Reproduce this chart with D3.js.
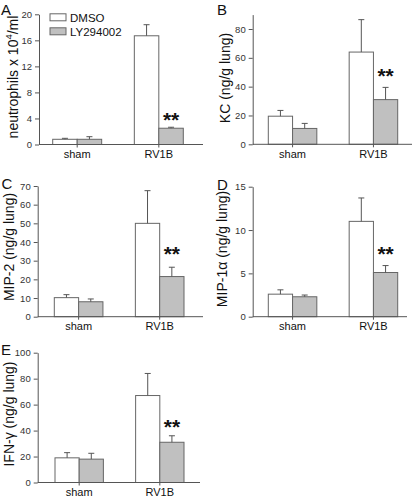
<!DOCTYPE html>
<html><head><meta charset="utf-8">
<script src="https://cdn.jsdelivr.net/npm/d3@7"></script>
<style>
body{margin:0;background:#fff;}
svg{display:block;font-family:"Liberation Sans",Arial,sans-serif;}
</style></head>
<body>
<svg id="c" width="415" height="497"></svg>
<script>
const groups = ["sham", "RV1B"];
const series = ["DMSO", "LY294002"];

const neutrophilsMean = [[0.8, 0.8], [16.7, 2.5]];
const neutrophilsErr  = [[0.95, 1.2], [18.4, 2.65]];
const kcMean = [[19.5, 11], [64, 31]];
const kcErr  = [[23.5, 14.5], [86.5, 39.5]];
const mip2Mean = [[10.2, 8], [50, 21.5]];
const mip2Err  = [[11.8, 9.5], [67.5, 26.5]];
const mip1aMean = [[2.6, 2.3], [11, 5.1]];
const mip1aErr  = [[3.1, 2.5], [13.7, 5.9]];
const ifngMean = [[19, 18], [67, 31]];
const ifngErr  = [[23, 22.5], [84, 36]];

const ticksA = [0, 4, 8, 12, 16, 20];
const ticksB = [0, 20, 40, 60, 80];
const ticksC = [0, 10, 20, 30, 40, 50, 60, 70];
const ticksD = [0, 5, 10, 15];
const ticksE = [0, 20, 40, 60, 80, 100];

const panels = [
  {letter:"A", lx:1, ly:15, mean:neutrophilsMean, err:neutrophilsErr, ticks:ticksA, ymax:20,
   ax:39, axEnd:203, y0:144.5, yTop:14.3, b0:52.7, b1:183.3, labX:18, labY:77, label:"neutrophils", starOff:8, legend:true},
  {letter:"B", lx:217, ly:15, mean:kcMean, err:kcErr, ticks:ticksB, ymax:90,
   ax:252.7, axEnd:412, y0:144.3, yTop:14.6, b0:268.3, b1:397.7, labX:230, labY:78, label:"KC (ng/g lung)", starOff:12},
  {letter:"C", lx:1.5, ly:189, mean:mip2Mean, err:mip2Err, ticks:ticksC, ymax:70,
   ax:37.7, axEnd:203, y0:316.7, yTop:186, b0:54.3, b1:184, labX:13.5, labY:247, label:"MIP-2 (ng/g lung)", starOff:14},
  {letter:"D", lx:217, ly:190, mean:mip1aMean, err:mip1aErr, ticks:ticksD, ymax:15,
   ax:252.7, axEnd:407, y0:316.7, yTop:186.7, b0:268.3, b1:397.7, labX:227, labY:249, label:"MIP-1α (ng/g lung)", starOff:12.5},
  {letter:"E", lx:1, ly:355, mean:ifngMean, err:ifngErr, ticks:ticksE, ymax:100,
   ax:37.7, axEnd:200, y0:482.5, yTop:352.7, b0:55, b1:184, labX:13.5, labY:414, label:"IFN-γ (ng/g lung)", starOff:10}
];

const svg = d3.select("#c");
const fills = {DMSO:"#ffffff", LY294002:"#c0c0c0"};
const axisCol = "#555";

panels.forEach(p => {
  const g = svg.append("g");
  const y = d3.scaleLinear().domain([0, p.ymax]).range([p.y0, p.yTop]);
  const x = d3.scaleBand().domain(groups).range([p.b0, p.b1]).paddingInner(0.4).paddingOuter(0);
  const xs = d3.scaleBand().domain(series).range([0, x.bandwidth()]);

  groups.forEach((grp, gi) => {
    series.forEach((s, si) => {
      const v = p.mean[gi][si], e = p.err[gi][si];
      const bx = x(grp) + xs(s);
      g.append("rect").attr("x", bx).attr("y", y(v)).attr("width", xs.bandwidth()).attr("height", y(0) - y(v))
        .attr("fill", fills[s]).attr("stroke", "#666").attr("stroke-width", 1);
      const cx = bx + xs.bandwidth() / 2;
      g.append("line").attr("x1", cx).attr("x2", cx).attr("y1", y(v)).attr("y2", y(e)).attr("stroke", "#555").attr("stroke-width", 1);
      g.append("line").attr("x1", cx - 3).attr("x2", cx + 3).attr("y1", y(e)).attr("y2", y(e)).attr("stroke", "#555").attr("stroke-width", 1);
    });
  });
  const starX = x("RV1B") + xs("LY294002") + xs.bandwidth() / 2;
  g.append("text").attr("x", starX).attr("y", y(p.err[1][1]) - p.starOff + 8).attr("text-anchor", "middle")
    .attr("font-size", 21).attr("font-weight", "bold").attr("fill", "#111").text("**");

  const yAxis = d3.axisLeft(y).tickValues(p.ticks).tickSize(4).tickPadding(3).tickSizeOuter(0);
  const ya = g.append("g").attr("transform", `translate(${p.ax},0)`).call(yAxis);
  ya.select(".domain").attr("stroke", axisCol);
  ya.selectAll(".tick line").attr("stroke", axisCol);
  ya.selectAll("text").attr("font-size", 9.5).attr("fill", "#333").attr("font-family", "Liberation Sans, Arial, sans-serif");
  g.append("line").attr("x1", p.ax).attr("x2", p.axEnd).attr("y1", y(0)).attr("y2", y(0)).attr("stroke", axisCol);
  groups.forEach(grp => {
    const cx = x(grp) + x.bandwidth() / 2;
    g.append("line").attr("x1", cx).attr("x2", cx).attr("y1", y(0)).attr("y2", y(0) + 3).attr("stroke", axisCol);
    g.append("text").attr("x", cx).attr("y", y(0) + 13.5).attr("text-anchor", "middle").attr("font-size", 11).attr("fill", "#111").text(grp);
  });

  const lt = g.append("text").attr("transform", `translate(${p.labX},${p.labY}) rotate(-90)`)
    .attr("text-anchor", "middle").attr("font-size", 14).attr("fill", "#111");
  if (p.label === "neutrophils") {
    lt.append("tspan").text("neutrophils x 10");
    lt.append("tspan").attr("font-size", 9.5).attr("dy", -6).text("4");
    lt.append("tspan").attr("dy", 6).text("/ml");
  } else {
    lt.text(p.label);
  }
  g.append("text").attr("x", p.lx).attr("y", p.ly).attr("font-size", 15).attr("fill", "#111").text(p.letter);

  if (p.legend) {
    const lg = g.append("g");
    series.forEach((s, i) => {
      lg.append("rect").attr("x", 50).attr("y", 13.8 + i * 14).attr("width", 16).attr("height", 7)
        .attr("fill", fills[s]).attr("stroke", "#666");
      lg.append("text").attr("x", 70).attr("y", 21.5 + i * 14).attr("font-size", 11.5).attr("fill", "#111").text(s);
    });
  }
});
</script>
</body></html>
